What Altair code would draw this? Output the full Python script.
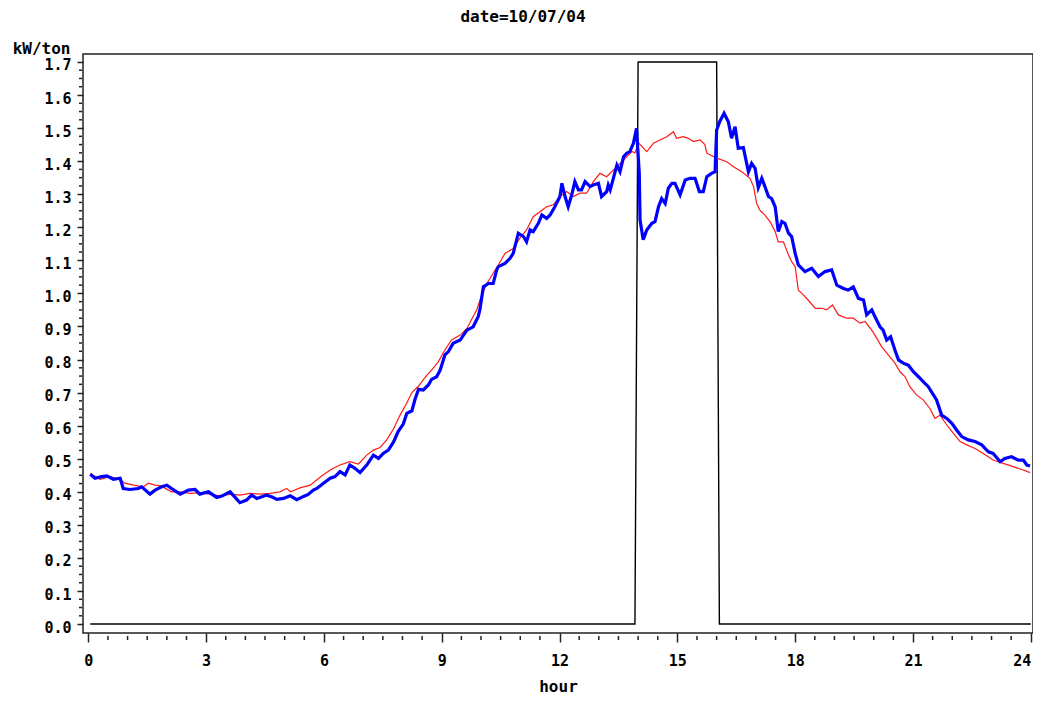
import altair as alt
import pandas as pd

# ---------------- data ----------------
hours_blue = [0.05, 0.17, 0.34, 0.47, 0.64, 0.81, 0.89, 1.06, 1.27, 1.36, 1.57, 1.70, 1.87, 2.00,
              2.12, 2.34, 2.55, 2.72, 2.84, 3.06, 3.27, 3.40, 3.61, 3.74, 3.86, 4.03, 4.16, 4.29,
              4.42, 4.54, 4.67, 4.80, 4.97, 5.14, 5.31, 5.48, 5.60, 5.73, 5.82, 5.99, 6.16, 6.28,
              6.41, 6.54, 6.66, 6.79, 6.92, 7.09, 7.26, 7.39, 7.51, 7.64, 7.77, 7.89, 8.02, 8.11,
              8.24, 8.32, 8.41, 8.53, 8.66, 8.74, 8.87, 8.96, 9.08, 9.17, 9.29, 9.47, 9.64, 9.80,
              9.93, 9.97, 10.06, 10.19, 10.31, 10.40, 10.44, 10.61, 10.74, 10.82, 10.95, 11.08,
              11.16, 11.25, 11.33, 11.46, 11.55, 11.67, 11.76, 11.88, 12.01, 12.06, 12.14, 12.22,
              12.31, 12.39, 12.48, 12.56, 12.65, 12.78, 12.86, 12.99, 13.07, 13.20, 13.24, 13.29,
              13.37, 13.46, 13.54, 13.63, 13.71, 13.79, 13.88, 13.96, 14.03, 14.05, 14.13, 14.22,
              14.35, 14.43, 14.52, 14.60, 14.69, 14.77, 14.86, 14.94, 15.07, 15.20, 15.32, 15.45,
              15.56, 15.66, 15.75, 15.87, 15.96, 16.00, 16.08, 16.19, 16.30, 16.38, 16.47, 16.55,
              16.68, 16.81, 16.89, 16.98, 17.06, 17.15, 17.23, 17.32, 17.40, 17.49, 17.57, 17.66,
              17.74, 17.83, 17.91, 18.00, 18.08, 18.25, 18.42, 18.59, 18.76, 18.93, 19.06, 19.23,
              19.35, 19.48, 19.61, 19.74, 19.82, 19.95, 20.03, 20.16, 20.24, 20.33, 20.43, 20.54,
              20.63, 20.75, 20.88, 21.01, 21.14, 21.26, 21.39, 21.52, 21.60, 21.73, 21.86, 21.99,
              22.11, 22.24, 22.41, 22.58, 22.75, 22.92, 23.04, 23.22, 23.34, 23.51, 23.68, 23.81,
              23.90, 23.98]
kw_blue = [0.453, 0.441, 0.446, 0.448, 0.438, 0.441, 0.410, 0.407, 0.410, 0.415, 0.393, 0.405, 0.415, 0.420,
           0.410, 0.393, 0.405, 0.407, 0.393, 0.400, 0.383, 0.387, 0.400, 0.383, 0.367, 0.375, 0.390, 0.380,
           0.385, 0.390, 0.385, 0.377, 0.380, 0.388, 0.376, 0.386, 0.392, 0.405, 0.410, 0.426, 0.441, 0.446,
           0.461, 0.451, 0.481, 0.471, 0.458, 0.481, 0.511, 0.501, 0.516, 0.526, 0.550, 0.582, 0.605, 0.637,
           0.645, 0.680, 0.710, 0.708, 0.723, 0.740, 0.748, 0.768, 0.814, 0.824, 0.849, 0.859, 0.889, 0.899,
           0.930, 0.950, 1.020, 1.030, 1.030, 1.071, 1.081, 1.091, 1.106, 1.121, 1.182, 1.172,
           1.156, 1.192, 1.187, 1.212, 1.237, 1.227, 1.237, 1.262, 1.293, 1.333, 1.293, 1.262,
           1.298, 1.338, 1.313, 1.313, 1.338, 1.323, 1.328, 1.333, 1.293, 1.308, 1.328, 1.313,
           1.348, 1.388, 1.368, 1.413, 1.424, 1.429, 1.454, 1.499, 1.363, 1.222, 1.162, 1.192,
           1.212, 1.217, 1.262, 1.287, 1.272, 1.318, 1.333, 1.333, 1.298, 1.343, 1.348, 1.348,
           1.308, 1.308, 1.353, 1.363, 1.368, 1.494, 1.520, 1.545, 1.518, 1.469, 1.504, 1.439,
           1.441, 1.368, 1.393, 1.378, 1.320, 1.348, 1.323, 1.293, 1.287, 1.262, 1.187, 1.217,
           1.212, 1.182, 1.172, 1.121, 1.086, 1.066, 1.076, 1.051, 1.066, 1.071, 1.025, 1.015,
           1.010, 1.020, 0.985, 0.980, 0.935, 0.950, 0.930, 0.899, 0.889, 0.859, 0.869, 0.829,
           0.799, 0.789, 0.783, 0.763, 0.748, 0.733, 0.718, 0.693, 0.678, 0.632, 0.622, 0.607,
           0.587, 0.567, 0.557, 0.552, 0.542, 0.521, 0.516, 0.491, 0.501, 0.506, 0.496, 0.496,
           0.481, 0.478]

hours_red = [0.05, 0.30, 0.55, 0.81, 0.93, 1.15, 1.40, 1.53, 1.70, 1.85, 2.12, 2.34, 2.59, 2.84,
             3.10, 3.38, 3.61, 3.86, 4.12, 4.37, 4.63, 4.88, 5.05, 5.15, 5.39, 5.65, 5.90, 6.16,
             6.41, 6.66, 6.88, 7.09, 7.26, 7.43, 7.60, 7.77, 7.94, 8.08, 8.24, 8.41, 8.57, 8.74,
             8.91, 9.08, 9.25, 9.47, 9.64, 9.80, 9.89, 10.02, 10.15, 10.31, 10.44, 10.61, 10.82,
             10.99, 11.16, 11.33, 11.50, 11.67, 11.84, 12.01, 12.18, 12.35, 12.52, 12.69, 12.86,
             13.03, 13.20, 13.37, 13.54, 13.71, 13.84, 13.92, 14.01, 14.22, 14.39, 14.56, 14.73,
             14.90, 14.98, 15.15, 15.28, 15.41, 15.58, 15.70, 15.75, 16.00, 16.26, 16.43, 16.64,
             16.85, 16.94, 17.02, 17.10, 17.23, 17.36, 17.49, 17.57, 17.70, 17.83, 17.91, 18.00,
             18.08, 18.17, 18.33, 18.51, 18.68, 18.80, 18.95, 19.10, 19.31, 19.48, 19.65, 19.78,
             19.95, 20.08, 20.20, 20.37, 20.54, 20.67, 20.80, 20.92, 21.09, 21.26, 21.43, 21.56,
             21.69, 21.86, 22.03, 22.20, 22.37, 22.58, 22.79, 23.04, 23.30, 23.55, 23.81, 23.98]
kw_red = [0.455, 0.438, 0.446, 0.438, 0.426, 0.420, 0.415, 0.426, 0.420, 0.418, 0.400, 0.400, 0.395, 0.397,
          0.393, 0.387, 0.393, 0.390, 0.395, 0.393, 0.395, 0.400, 0.410, 0.400, 0.412, 0.420, 0.444, 0.466,
          0.481, 0.491, 0.484, 0.511, 0.526, 0.534, 0.557, 0.590, 0.632, 0.662, 0.700, 0.720, 0.745, 0.768,
          0.793, 0.829, 0.859, 0.874, 0.894, 0.930, 0.950, 0.995, 1.030, 1.061, 1.086, 1.121, 1.136,
          1.167, 1.192, 1.232, 1.247, 1.262, 1.268, 1.293, 1.308, 1.293, 1.303, 1.303, 1.338,
          1.363, 1.353, 1.373, 1.393, 1.413, 1.429, 1.425, 1.455, 1.429, 1.454, 1.464, 1.474,
          1.489, 1.469, 1.474, 1.469, 1.459, 1.464, 1.450, 1.424, 1.409, 1.398, 1.383, 1.368,
          1.348, 1.323, 1.272, 1.252, 1.237, 1.217, 1.187, 1.156, 1.156, 1.116, 1.096, 1.081,
          1.010, 1.000, 0.980, 0.955, 0.955, 0.950, 0.965, 0.935, 0.925, 0.925, 0.910, 0.915,
          0.889, 0.864, 0.839, 0.814, 0.789, 0.763, 0.748, 0.718, 0.693, 0.678, 0.652, 0.622,
          0.632, 0.602, 0.577, 0.552, 0.542, 0.531, 0.516, 0.496, 0.486, 0.476, 0.466, 0.458]

hours_black = [0.05, 13.92, 14.0, 16.0, 16.07, 24.0]
kw_black = [0.0, 0.0, 1.7, 1.7, 0.0, 0.0]

x_ticks = [0, 3, 6, 9, 12, 15, 18, 21, 24]
y_ticks = [round(i * 0.1, 1) for i in range(18)]
x_minor = [i * 0.5 for i in range(49) if i % 6 != 0]
y_minor = [round(i * 0.025, 3) for i in range(69) if i % 4 != 0]

title_text = "date=10/07/04"

# ---------------- chart ----------------
FONT = "DejaVu Sans Mono"
W, H = 950, 579

x_axis = alt.Axis(values=x_ticks, format="d", tickSize=9, tickWidth=1.5, tickColor="#222",
                  labelFont=FONT, labelFontSize=15, labelFontWeight="bold", labelColor="black",
                  labelPadding=11, labelFlush=3, domain=False, grid=False,
                  title="hour", titleFont=FONT, titleFontSize=16, titleFontWeight="bold",
                  titleColor="black", titleY=53, titleBaseline="middle")
y_axis = alt.Axis(values=y_ticks, format=".1f", tickSize=6, tickWidth=1.5, tickColor="#222",
                  labelFont=FONT, labelFontSize=15, labelFontWeight="bold", labelColor="black",
                  labelPadding=6, labelOffset=3, labelFlush=False, domain=False, grid=False,
                  title="kW/ton", titleFont=FONT, titleFontSize=16, titleFontWeight="bold",
                  titleColor="black", titleAngle=0, titleX=-13, titleY=-1,
                  titleAlign="right", titleBaseline="alphabetic")

xs = alt.Scale(domain=[-0.135, 24.056], nice=False, zero=False)
ys = alt.Scale(domain=[-0.027, 1.724], nice=False, zero=False)
X = alt.X("h:Q", scale=xs, axis=x_axis)
Y = alt.Y("v:Q", scale=ys, axis=y_axis)

df_black = pd.DataFrame({"h": hours_black, "v": kw_black})
df_red = pd.DataFrame({"h": hours_red, "v": kw_red})
df_blue = pd.DataFrame({"h": hours_blue, "v": kw_blue})
df_xm = pd.DataFrame({"h": x_minor})
df_ym = pd.DataFrame({"v": y_minor})

black = alt.Chart(df_black).mark_line(color="black", strokeWidth=1.4).encode(x=X, y=Y)
red = alt.Chart(df_red).mark_line(color="#ff1a1a", strokeWidth=1.2).encode(x=X, y=Y)
blue = alt.Chart(df_blue).mark_line(color="#0000ff", strokeWidth=3.2).encode(x=X, y=Y)

xminor = alt.Chart(df_xm).mark_rule(color="#222", strokeWidth=1.5).encode(
    x=X, y=alt.value(H + 3), y2=alt.value(H + 7))
yminor = alt.Chart(df_ym).mark_rule(color="#222", strokeWidth=1.5).encode(
    y=Y, x=alt.value(-4), x2=alt.value(-1))

title = alt.Chart(pd.DataFrame({"t": [title_text]})).mark_text(
    font=FONT, fontSize=16, fontWeight="bold", color="black", baseline="middle", align="center"
).encode(text="t:N", x=alt.value(440), y=alt.value(-37))

chart = alt.layer(black, red, blue, xminor, yminor, title).properties(
    width=W, height=H,
    autosize=alt.AutoSizeParams(type="none"),
    padding={"left": 75, "top": 46, "right": 0, "bottom": 61},
    background="white",
).configure_view(stroke="#222", strokeWidth=1.5)

chart.save("out.html", embed_options={"renderer": "svg", "actions": False})
